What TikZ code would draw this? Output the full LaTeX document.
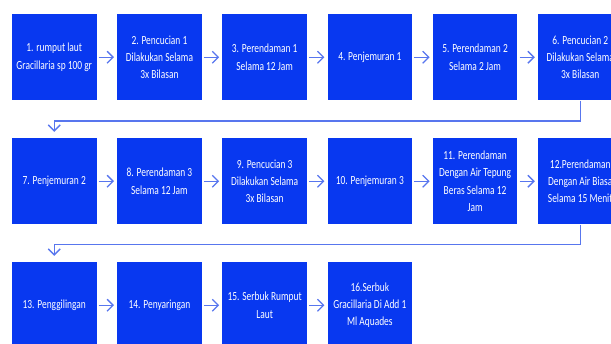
\documentclass[tikz,border=0pt]{standalone}
\usepackage{fontspec}
\newfontfamily\boxfont[FakeStretch=0.76]{Carlito}
\usetikzlibrary{arrows.meta}
\definecolor{boxblue}{RGB}{8,56,240}
\definecolor{linkblue}{RGB}{88,118,238}
\tikzset{
  stepbox/.style={fill=boxblue, draw=none, text=white, minimum width=84.5pt, minimum height=86.5pt,
    inner sep=0pt, align=center, font={\boxfont\fontsize{12.4}{17.4}\selectfont}},
  link/.style={draw=linkblue, line width=1.3pt, -{Straight Barb[length=6pt,width=12pt,line width=1.3pt]}},
  hlink/.style={link, shorten <=2pt, shorten >=3pt},
}
\begin{document}
\begin{tikzpicture}[x=1pt,y=-1pt]
\useasboundingbox (0,0) rectangle (611,344);
% row 1
\node[stepbox] (b1) at (54.25,57.25) {1. rumput laut\\Gracillaria sp 100 gr};
\node[stepbox] (b2) at (159.45,57.25) {2. Pencucian 1\\Dilakukan Selama\\3x Bilasan};
\node[stepbox] (b3) at (264.65,57.25) {3. Perendaman 1\\Selama 12 Jam};
\node[stepbox] (b4) at (369.85,57.25) {4. Penjemuran 1};
\node[stepbox] (b5) at (475.05,57.25) {5. Perendaman 2\\Selama 2 Jam};
\node[stepbox] (b6) at (580.25,57.25) {6. Pencucian 2\\Dilakukan Selama\\3x Bilasan};
% row 2
\node[stepbox] (b7) at (54.25,181.25) {7. Penjemuran 2};
\node[stepbox] (b8) at (159.45,181.25) {8. Perendaman 3\\Selama 12 Jam};
\node[stepbox] (b9) at (264.65,181.25) {9. Pencucian 3\\Dilakukan Selama\\3x Bilasan};
\node[stepbox] (b10) at (369.85,181.25) {10. Penjemuran 3};
\node[stepbox] (b11) at (475.05,181.25) {11. Perendaman\\Dengan Air Tepung\\Beras Selama 12\\Jam};
\node[stepbox] (b12) at (580.25,181.25) {12.Perendaman\\Dengan Air Biasa\\Selama 15 Menit};
% row 3
\node[stepbox] (b13) at (54.25,305.25) {13. Penggilingan};
\node[stepbox] (b14) at (159.45,305.25) {14. Penyaringan};
\node[stepbox] (b15) at (264.65,305.25) {15. Serbuk Rumput\\Laut};
\node[stepbox] (b16) at (369.85,305.25) {16.Serbuk\\Gracillaria Di Add 1\\Ml Aquades};
% horizontal links
\foreach \a/\b in {b1/b2,b2/b3,b3/b4,b4/b5,b5/b6,b7/b8,b8/b9,b9/b10,b10/b11,b11/b12,b13/b14,b14/b15,b15/b16}
  \draw[hlink] (\a) -- (\b);
% row-to-row links
\coordinate (r1a) at (580.25,121);
\coordinate (r1b) at (54.25,121);
\coordinate (r2a) at (580.25,244.5);
\coordinate (r2b) at (54.25,244.5);
\draw[link, shorten >=6pt] (b6.south) -- (r1a) -- (r1b) -- (b7.north);
\draw[link, shorten >=6pt] (b12.south) -- (r2a) -- (r2b) -- (b13.north);
\end{tikzpicture}
\end{document}
